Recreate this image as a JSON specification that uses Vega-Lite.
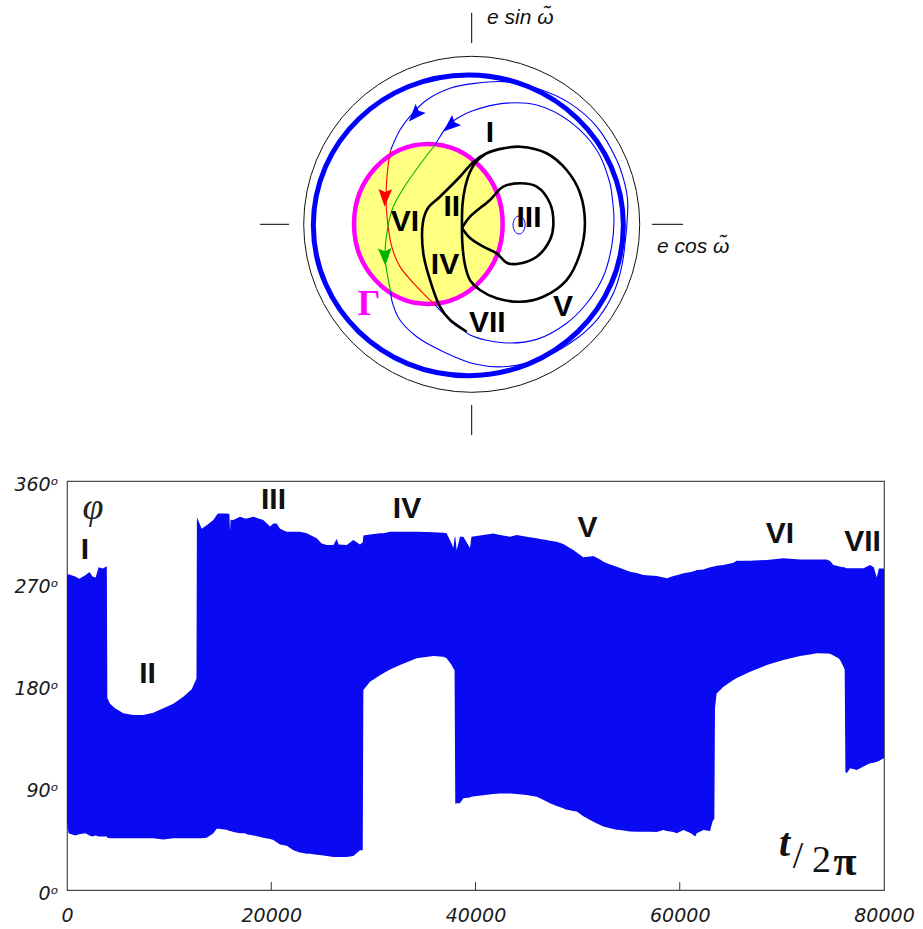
{
  "$schema": "https://vega.github.io/schema/vega-lite/v6.json",
  "width": 817,
  "height": 409,
  "autosize": {"type": "none"},
  "padding": {"left": 67, "top": 481, "right": 39, "bottom": 39},
  "background": "white",
  "config": {"view": {"stroke": "#4a4a4a", "strokeWidth": 1.2}},
  "datasets": {
    "band": [
      {"t":0,"lo":60,"hi":277},{"t":150,"lo":50,"hi":278},{"t":800,"lo":48,"hi":276},{"t":1200,"lo":49,"hi":274},{"t":1800,"lo":50,"hi":277},{"t":2200,"lo":48,"hi":280},{"t":2500,"lo":47,"hi":276},{"t":2800,"lo":48,"hi":275},{"t":3100,"lo":47,"hi":284},{"t":3500,"lo":47,"hi":283},{"t":3900,"lo":47,"hi":285},
      {"t":3950,"lo":46,"hi":169},{"t":4210,"lo":45.5,"hi":164},{"t":4700,"lo":45.5,"hi":160},{"t":5520,"lo":45.5,"hi":155.5},{"t":6500,"lo":45.5,"hi":154},{"t":7470,"lo":45.5,"hi":154},{"t":8450,"lo":45.5,"hi":156},{"t":9430,"lo":44.5,"hi":160},{"t":10410,"lo":45.5,"hi":164},{"t":11390,"lo":45.5,"hi":170},{"t":12210,"lo":45.5,"hi":176.6},{"t":12540,"lo":45.5,"hi":183.4},{"t":12680,"lo":45.5,"hi":186},
      {"t":12720,"lo":45.5,"hi":328},{"t":13190,"lo":45.5,"hi":318},{"t":13680,"lo":46,"hi":321},{"t":14330,"lo":50,"hi":325.7},{"t":14660,"lo":54,"hi":330},{"t":14820,"lo":54,"hi":331.5},{"t":15640,"lo":53,"hi":331.5},{"t":15900,"lo":52,"hi":331},{"t":15960,"lo":52,"hi":316},{"t":16020,"lo":52,"hi":326},{"t":16290,"lo":51,"hi":325.7},{"t":16940,"lo":50,"hi":328.6},{"t":17430,"lo":50,"hi":327},{"t":17590,"lo":49,"hi":327},{"t":18250,"lo":48,"hi":328.6},{"t":19220,"lo":46,"hi":325.7},{"t":19880,"lo":45,"hi":320},{"t":20210,"lo":44,"hi":322.7},{"t":20530,"lo":42,"hi":322.7},{"t":20860,"lo":40,"hi":318},{"t":21510,"lo":39,"hi":315.4},{"t":22170,"lo":35,"hi":315.4},{"t":22810,"lo":33,"hi":315.4},{"t":23470,"lo":32,"hi":314},{"t":23800,"lo":32,"hi":312.5},{"t":24450,"lo":31,"hi":309.5},{"t":24940,"lo":30.5,"hi":305},{"t":25430,"lo":30,"hi":303.7},{"t":26080,"lo":29,"hi":303.7},{"t":26410,"lo":29,"hi":309},{"t":26600,"lo":29,"hi":304},{"t":27390,"lo":29,"hi":303.7},{"t":28040,"lo":30,"hi":308},{"t":28690,"lo":35,"hi":304},{"t":28960,"lo":35,"hi":306},
      {"t":29020,"lo":176,"hi":312},{"t":29670,"lo":183.4,"hi":313},{"t":30650,"lo":189,"hi":314},{"t":30980,"lo":190.7,"hi":314},{"t":31630,"lo":194,"hi":315.4},{"t":32610,"lo":198,"hi":315.4},{"t":34240,"lo":204,"hi":315.4},{"t":35870,"lo":206,"hi":315},{"t":36850,"lo":205.4,"hi":314.5},{"t":37170,"lo":204,"hi":314},{"t":37660,"lo":198,"hi":305},{"t":37830,"lo":195,"hi":301},{"t":37950,"lo":193.6,"hi":310},
      {"t":38020,"lo":76,"hi":311},{"t":38160,"lo":76.3,"hi":299},{"t":38480,"lo":76.3,"hi":311},{"t":38810,"lo":80.7,"hi":311},{"t":39460,"lo":81.5,"hi":301},{"t":39600,"lo":82,"hi":311},{"t":40110,"lo":82.7,"hi":311.5},{"t":40770,"lo":83.5,"hi":312.5},{"t":41740,"lo":84.5,"hi":313.9},{"t":42400,"lo":85,"hi":312.5},{"t":43380,"lo":85,"hi":311},{"t":44030,"lo":84.5,"hi":312.5},{"t":45010,"lo":83.6,"hi":311},{"t":45990,"lo":82,"hi":309.5},{"t":46320,"lo":80.7,"hi":309},{"t":46960,"lo":78,"hi":308},{"t":47300,"lo":76.3,"hi":307.5},{"t":47940,"lo":74,"hi":306.6},{"t":48600,"lo":72,"hi":304.5},{"t":48760,"lo":71,"hi":303.7},{"t":49580,"lo":69.5,"hi":299.3},{"t":49910,"lo":69,"hi":297},{"t":50560,"lo":65,"hi":292.8},{"t":51220,"lo":61.6,"hi":293.5},{"t":51540,"lo":60,"hi":294},{"t":52200,"lo":57.2,"hi":291},{"t":52520,"lo":56,"hi":289},{"t":53180,"lo":54.3,"hi":286.5},{"t":53830,"lo":53,"hi":284.6},{"t":54160,"lo":52.8,"hi":283.5},{"t":55130,"lo":51.5,"hi":280.2},{"t":55790,"lo":51.3,"hi":279},{"t":56440,"lo":51.3,"hi":277.3},{"t":57100,"lo":51.3,"hi":276.8},{"t":57750,"lo":51,"hi":276.4},{"t":58410,"lo":52.8,"hi":275},{"t":58730,"lo":52,"hi":274.3},{"t":59380,"lo":51,"hi":276.4},{"t":59710,"lo":49.9,"hi":277},{"t":60360,"lo":52.8,"hi":278.7},{"t":61100,"lo":50,"hi":280},{"t":61510,"lo":47,"hi":281},{"t":61670,"lo":50,"hi":281.7},{"t":62320,"lo":52.8,"hi":282},{"t":62970,"lo":52,"hi":284},{"t":63200,"lo":60,"hi":284.5},{"t":63390,"lo":63,"hi":284.7},
      {"t":63450,"lo":160,"hi":285},{"t":63610,"lo":173,"hi":285.5},{"t":64280,"lo":179,"hi":286.1},{"t":65250,"lo":184.8,"hi":288},{"t":65580,"lo":186.5,"hi":289.9},{"t":66890,"lo":192.2,"hi":289.9},{"t":68520,"lo":198,"hi":290.5},{"t":70150,"lo":202.4,"hi":291.9},{"t":71780,"lo":206,"hi":291},{"t":72760,"lo":207.3,"hi":291},{"t":73420,"lo":208.3,"hi":291},{"t":74390,"lo":208.2,"hi":291},{"t":74720,"lo":208,"hi":289.5},{"t":75050,"lo":206.5,"hi":286.1},{"t":75540,"lo":203.9,"hi":285},{"t":75700,"lo":202.5,"hi":284.6},{"t":76030,"lo":196.6,"hi":284},{"t":76150,"lo":194,"hi":284},
      {"t":76220,"lo":104,"hi":283.5},{"t":76350,"lo":102.7,"hi":283.3},{"t":76680,"lo":107.1,"hi":283.1},{"t":77330,"lo":105.6,"hi":283.1},{"t":77990,"lo":108.6,"hi":283.1},{"t":78640,"lo":111.5,"hi":286},{"t":79000,"lo":112,"hi":284},{"t":79290,"lo":112.9,"hi":275},{"t":79500,"lo":113.5,"hi":283},{"t":79790,"lo":115,"hi":283},{"t":80000,"lo":116,"hi":283}
    ],
    "traj": [
      {"seg":"b1","part":"outside","i":1,"u":-0.482,"v":-0.401},{"seg":"b1","part":"outside","i":2,"u":-0.476,"v":-0.451},{"seg":"b1","part":"outside","i":3,"u":-0.427,"v":-0.570},{"seg":"b1","part":"outside","i":4,"u":-0.327,"v":-0.669},{"seg":"b1","part":"outside","i":5,"u":-0.169,"v":-0.758},{"seg":"b1","part":"outside","i":6,"u":0.020,"v":-0.832},{"seg":"b1","part":"outside","i":7,"u":0.188,"v":-0.848},{"seg":"b1","part":"outside","i":8,"u":0.387,"v":-0.808},{"seg":"b1","part":"outside","i":9,"u":0.585,"v":-0.708},{"seg":"b1","part":"outside","i":10,"u":0.744,"v":-0.570},{"seg":"b1","part":"outside","i":11,"u":0.843,"v":-0.411},{"seg":"b1","part":"outside","i":12,"u":0.893,"v":-0.252},{"seg":"b1","part":"outside","i":13,"u":0.915,"v":-0.093},{"seg":"b1","part":"outside","i":14,"u":0.924,"v":0.002},{"seg":"b1","part":"outside","i":15,"u":0.928,"v":0.145},{"seg":"b1","part":"outside","i":16,"u":0.905,"v":0.264},{"seg":"b1","part":"outside","i":17,"u":0.863,"v":0.383},{"seg":"b1","part":"outside","i":18,"u":0.744,"v":0.581},{"seg":"b1","part":"outside","i":19,"u":0.585,"v":0.720},{"seg":"b1","part":"outside","i":20,"u":0.387,"v":0.810},{"seg":"b1","part":"outside","i":21,"u":0.188,"v":0.849},{"seg":"b1","part":"outside","i":22,"u":0.020,"v":0.839},{"seg":"b1","part":"outside","i":23,"u":-0.129,"v":0.810},{"seg":"b1","part":"outside","i":24,"u":-0.268,"v":0.740},{"seg":"b1","part":"outside","i":25,"u":-0.349,"v":0.663},{"seg":"b1","part":"outside","i":26,"u":-0.427,"v":0.561},{"seg":"b1","part":"outside","i":27,"u":-0.482,"v":0.442},
      {"seg":"r","part":"inside1","i":1,"u":-0.482,"v":0.442},{"seg":"r","part":"inside1","i":2,"u":-0.496,"v":0.363},{"seg":"r","part":"inside1","i":3,"u":-0.510,"v":0.164},{"seg":"r","part":"inside1","i":4,"u":-0.502,"v":0.026},{"seg":"r","part":"inside1","i":5,"u":-0.476,"v":-0.133},{"seg":"r","part":"inside1","i":6,"u":-0.427,"v":-0.252},{"seg":"r","part":"inside1","i":7,"u":-0.327,"v":-0.371},{"seg":"r","part":"inside1","i":8,"u":-0.218,"v":-0.480},
      {"seg":"b2","part":"outside","i":1,"u":-0.218,"v":-0.480},{"seg":"b2","part":"outside","i":2,"u":-0.149,"v":-0.550},{"seg":"b2","part":"outside","i":3,"u":-0.070,"v":-0.610},{"seg":"b2","part":"outside","i":4,"u":-0.010,"v":-0.659},{"seg":"b2","part":"outside","i":5,"u":0.188,"v":-0.705},{"seg":"b2","part":"outside","i":6,"u":0.387,"v":-0.685},{"seg":"b2","part":"outside","i":7,"u":0.565,"v":-0.589},{"seg":"b2","part":"outside","i":8,"u":0.685,"v":-0.470},{"seg":"b2","part":"outside","i":9,"u":0.783,"v":-0.312},{"seg":"b2","part":"outside","i":10,"u":0.833,"v":-0.133},{"seg":"b2","part":"outside","i":11,"u":0.847,"v":0.026},{"seg":"b2","part":"outside","i":12,"u":0.838,"v":0.145},{"seg":"b2","part":"outside","i":13,"u":0.823,"v":0.244},{"seg":"b2","part":"outside","i":14,"u":0.744,"v":0.442},{"seg":"b2","part":"outside","i":15,"u":0.585,"v":0.611},{"seg":"b2","part":"outside","i":16,"u":0.387,"v":0.710},{"seg":"b2","part":"outside","i":17,"u":0.188,"v":0.720},{"seg":"b2","part":"outside","i":18,"u":0.002,"v":0.674},{"seg":"b2","part":"outside","i":19,"u":-0.070,"v":0.640},{"seg":"b2","part":"outside","i":20,"u":-0.139,"v":0.591},{"seg":"b2","part":"outside","i":21,"u":-0.189,"v":0.521},{"seg":"b2","part":"outside","i":22,"u":-0.218,"v":0.472},
      {"seg":"g","part":"inside2","i":1,"u":-0.218,"v":0.472},{"seg":"g","part":"inside2","i":2,"u":-0.288,"v":0.383},{"seg":"g","part":"inside2","i":3,"u":-0.387,"v":0.244},{"seg":"g","part":"inside2","i":4,"u":-0.467,"v":0.105},{"seg":"g","part":"inside2","i":5,"u":-0.502,"v":-0.034},{"seg":"g","part":"inside2","i":6,"u":-0.516,"v":-0.193},{"seg":"g","part":"inside2","i":7,"u":-0.496,"v":-0.332},{"seg":"g","part":"inside2","i":8,"u":-0.482,"v":-0.401}
    ],
    "black": [
      {"seg":"a","i":1,"u":-0.030,"v":-0.639},{"seg":"a","i":2,"u":-0.129,"v":-0.570},{"seg":"a","i":3,"u":-0.189,"v":-0.490},{"seg":"a","i":4,"u":-0.248,"v":-0.332},{"seg":"a","i":5,"u":-0.288,"v":-0.173},{"seg":"a","i":6,"u":-0.290,"v":0.014},{"seg":"a","i":7,"u":-0.260,"v":0.097},{"seg":"a","i":8,"u":-0.189,"v":0.164},{"seg":"a","i":9,"u":-0.070,"v":0.283},{"seg":"a","i":10,"u":0.010,"v":0.371},{"seg":"a","i":11,"u":0.089,"v":0.423},{"seg":"a","i":12,"u":0.188,"v":0.452},{"seg":"a","i":13,"u":0.288,"v":0.462},{"seg":"a","i":14,"u":0.446,"v":0.423},{"seg":"a","i":15,"u":0.565,"v":0.323},{"seg":"a","i":16,"u":0.645,"v":0.185},{"seg":"a","i":17,"u":0.674,"v":0.006},{"seg":"a","i":18,"u":0.645,"v":-0.173},{"seg":"a","i":19,"u":0.565,"v":-0.332},{"seg":"a","i":20,"u":0.426,"v":-0.431},{"seg":"a","i":21,"u":0.288,"v":-0.461},{"seg":"a","i":22,"u":0.149,"v":-0.440},{"seg":"a","i":23,"u":0.049,"v":-0.391},{"seg":"a","i":24,"u":-0.010,"v":-0.332},{"seg":"a","i":25,"u":-0.040,"v":-0.242},{"seg":"a","i":26,"u":-0.055,"v":-0.123},{"seg":"a","i":27,"u":-0.058,"v":-0.004},{"seg":"a","i":28,"u":-0.055,"v":0.115},{"seg":"a","i":29,"u":-0.040,"v":0.216},{"seg":"a","i":30,"u":-0.010,"v":0.311},{"seg":"a","i":31,"u":0.026,"v":0.371},{"seg":"a","i":32,"u":0.089,"v":0.423},
      {"seg":"b","i":1,"u":-0.058,"v":-0.022},{"seg":"b","i":2,"u":-0.010,"v":0.045},{"seg":"b","i":3,"u":0.109,"v":0.145},{"seg":"b","i":4,"u":0.188,"v":0.224},{"seg":"b","i":5,"u":0.288,"v":0.244},{"seg":"b","i":6,"u":0.387,"v":0.224},{"seg":"b","i":7,"u":0.466,"v":0.125},{"seg":"b","i":8,"u":0.486,"v":-0.004},{"seg":"b","i":9,"u":0.466,"v":-0.093},{"seg":"b","i":10,"u":0.387,"v":-0.193},{"seg":"b","i":11,"u":0.268,"v":-0.236},{"seg":"b","i":12,"u":0.208,"v":-0.229},{"seg":"b","i":13,"u":0.149,"v":-0.173},{"seg":"b","i":14,"u":0.069,"v":-0.133},{"seg":"b","i":15,"u":-0.010,"v":-0.082},{"seg":"b","i":16,"u":-0.058,"v":-0.022}
    ]
  },
  "layer": [
    {
      "layer": [
        {
          "data": {"name": "band"},
          "mark": {"type": "area", "color": "#0a0af2", "interpolate": "linear"},
          "encoding": {
            "x": {"field": "t", "type": "quantitative", "scale": {"domain": [0, 80000], "nice": false, "zero": false},
              "axis": {"values": [0, 20000, 40000, 60000, 80000], "format": "d", "title": null, "grid": false, "ticks": false, "domain": false, "labelFont": "DejaVu Sans", "labelFontStyle": "italic", "labelFontSize": 19, "labelColor": "#1a1a1a", "labelPadding": 16, "labelFlush": false, "labelOverlap": false}},
            "y": {"field": "lo", "type": "quantitative", "scale": {"domain": [0, 360], "nice": false, "zero": false},
              "axis": {"values": [0, 90, 180, 270, 360], "labelExpr": "datum.value + 'ᵒ'", "title": null, "grid": false, "ticks": false, "domain": false, "labelFont": "DejaVu Sans", "labelFontStyle": "italic", "labelFontSize": 19, "labelColor": "#1a1a1a", "labelPadding": 9, "labelOffset": 3, "labelOverlap": false}},
            "y2": {"field": "hi"}
          }
        },
        {
          "data": {"values": [{"t": 20000}, {"t": 40000}, {"t": 60000}]},
          "mark": {"type": "rule", "color": "#333", "strokeWidth": 1},
          "encoding": {
            "x": {"field": "t", "type": "quantitative", "scale": {"domain": [0, 80000], "nice": false, "zero": false}},
            "y": {"datum": 0, "type": "quantitative", "scale": {"domain": [0, 360], "nice": false, "zero": false}},
            "y2": {"datum": 7}
          }
        },
        {
          "data": {"values": [
            {"label": "I", "t": 1763, "p": 299.3}, {"label": "II", "t": 7883, "p": 190.1}, {"label": "III", "t": 20220, "p": 343.3},
            {"label": "IV", "t": 33293, "p": 335.4}, {"label": "V", "t": 50967, "p": 319}, {"label": "VI", "t": 69817, "p": 313.4}, {"label": "VII", "t": 77895, "p": 306.7}]},
          "mark": {"type": "text", "font": "Liberation Sans", "fontWeight": "bold", "fontSize": 30, "color": "#111", "align": "center", "baseline": "middle"},
          "encoding": {
            "x": {"field": "t", "type": "quantitative", "scale": {"domain": [0, 80000], "nice": false, "zero": false}},
            "y": {"field": "p", "type": "quantitative", "scale": {"domain": [0, 360], "nice": false, "zero": false}},
            "text": {"field": "label"}
          }
        },
        {
          "data": {"values": [{"label": "φ", "t": 2546, "p": 336.2}]},
          "mark": {"type": "text", "font": "Liberation Serif", "fontStyle": "italic", "fontSize": 38, "color": "#222", "align": "center", "baseline": "middle"},
          "encoding": {
            "x": {"field": "t", "type": "quantitative", "scale": {"domain": [0, 80000], "nice": false, "zero": false}},
            "y": {"field": "p", "type": "quantitative", "scale": {"domain": [0, 360], "nice": false, "zero": false}},
            "text": {"field": "label"}
          }
        },
        {
          "data": {"values": [{"label": "t", "t": 70258, "p": 40.5}]},
          "mark": {"type": "text", "font": "Liberation Serif", "fontStyle": "italic", "fontWeight": "bold", "fontSize": 40, "color": "#111", "align": "center", "baseline": "middle"},
          "encoding": {
            "x": {"field": "t", "type": "quantitative", "scale": {"domain": [0, 80000], "nice": false, "zero": false}},
            "y": {"field": "p", "type": "quantitative", "scale": {"domain": [0, 360], "nice": false, "zero": false}},
            "text": {"field": "label"}
          }
        },
        {
          "data": {"values": [{"label": "/", "t": 71580, "p": 29}, {"label": "2", "t": 73881, "p": 25.5}]},
          "mark": {"type": "text", "font": "Liberation Serif", "fontSize": 38, "color": "#111", "align": "center", "baseline": "middle"},
          "encoding": {
            "x": {"field": "t", "type": "quantitative", "scale": {"domain": [0, 80000], "nice": false, "zero": false}},
            "y": {"field": "p", "type": "quantitative", "scale": {"domain": [0, 360], "nice": false, "zero": false}},
            "text": {"field": "label"}
          }
        },
        {
          "data": {"values": [{"label": "π", "t": 76182, "p": 24.5}]},
          "mark": {"type": "text", "font": "Liberation Serif", "fontWeight": "bold", "fontSize": 42, "color": "#111", "align": "center", "baseline": "middle"},
          "encoding": {
            "x": {"field": "t", "type": "quantitative", "scale": {"domain": [0, 80000], "nice": false, "zero": false}},
            "y": {"field": "p", "type": "quantitative", "scale": {"domain": [0, 360], "nice": false, "zero": false}},
            "text": {"field": "label"}
          }
        }
      ]
    },
    {
      "layer": [
        {
          "data": {"values": [{"u": 0, "v": 0}]},
          "mark": {"type": "point", "shape": "circle", "size": 112896, "filled": false, "stroke": "#111", "strokeWidth": 1, "opacity": 1},
          "encoding": {
            "x": {"field": "u", "type": "quantitative", "scale": {"domain": [-2, 2], "range": [68.7, 740.7], "nice": false, "zero": false}, "axis": null},
            "y": {"field": "v", "type": "quantitative", "scale": {"domain": [-1.5, 1.5], "range": [-4.7, -508.7], "nice": false, "zero": false}, "axis": null}
          }
        },
        {
          "data": {"values": [{"u": -0.02, "v": -0.006}]},
          "mark": {"type": "point", "shape": "M-1,0A1,0.97,0,1,0,1,0A1,0.97,0,1,0,-1,0Z", "size": 96100, "filled": false, "stroke": "#0000ff", "strokeWidth": 5, "opacity": 1},
          "encoding": {
            "x": {"field": "u", "type": "quantitative", "scale": {"domain": [-2, 2], "range": [68.7, 740.7], "nice": false, "zero": false}, "axis": null},
            "y": {"field": "v", "type": "quantitative", "scale": {"domain": [-1.5, 1.5], "range": [-4.7, -508.7], "nice": false, "zero": false}, "axis": null}
          }
        },
        {
          "data": {"values": [{"u": -0.258, "v": 0.002}]},
          "mark": {"type": "point", "shape": "M-0.929,0A0.929,1,0,1,0,0.929,0A0.929,1,0,1,0,-0.929,0Z", "size": 25600, "filled": true, "fill": "#ffff80", "stroke": "#ff00ff", "strokeWidth": 4.5, "opacity": 1},
          "encoding": {
            "x": {"field": "u", "type": "quantitative", "scale": {"domain": [-2, 2], "range": [68.7, 740.7], "nice": false, "zero": false}, "axis": null},
            "y": {"field": "v", "type": "quantitative", "scale": {"domain": [-1.5, 1.5], "range": [-4.7, -508.7], "nice": false, "zero": false}, "axis": null}
          }
        },
        {
          "data": {"values": [{"u": 0.282, "v": -0.004}]},
          "mark": {"type": "point", "shape": "M-0.67,0A0.67,1,0,1,0,0.67,0A0.67,1,0,1,0,-0.67,0Z", "size": 324, "filled": false, "stroke": "#0000ff", "strokeWidth": 1, "opacity": 1},
          "encoding": {
            "x": {"field": "u", "type": "quantitative", "scale": {"domain": [-2, 2], "range": [68.7, 740.7], "nice": false, "zero": false}, "axis": null},
            "y": {"field": "v", "type": "quantitative", "scale": {"domain": [-1.5, 1.5], "range": [-4.7, -508.7], "nice": false, "zero": false}, "axis": null}
          }
        },
        {
          "data": {"name": "traj"},
          "mark": {"type": "line", "strokeWidth": 1.1, "interpolate": "catmull-rom"},
          "encoding": {
            "x": {"field": "u", "type": "quantitative", "scale": {"domain": [-2, 2], "range": [68.7, 740.7], "nice": false, "zero": false}, "axis": null},
            "y": {"field": "v", "type": "quantitative", "scale": {"domain": [-1.5, 1.5], "range": [-4.7, -508.7], "nice": false, "zero": false}, "axis": null},
            "detail": {"field": "seg"},
            "order": {"field": "i", "type": "quantitative"},
            "color": {"field": "part", "type": "nominal", "scale": {"domain": ["outside", "inside1", "inside2"], "range": ["#0000ff", "#ff0000", "#00b400"]}, "legend": null}
          }
        },
        {
          "data": {"name": "black"},
          "mark": {"type": "line", "strokeWidth": 2.6, "color": "#000", "interpolate": "catmull-rom"},
          "encoding": {
            "x": {"field": "u", "type": "quantitative", "scale": {"domain": [-2, 2], "range": [68.7, 740.7], "nice": false, "zero": false}, "axis": null},
            "y": {"field": "v", "type": "quantitative", "scale": {"domain": [-1.5, 1.5], "range": [-4.7, -508.7], "nice": false, "zero": false}, "axis": null},
            "detail": {"field": "seg"},
            "order": {"field": "i", "type": "quantitative"}
          }
        },
        {
          "data": {"values": [
            {"part": "outside", "u": -0.335, "v": 0.655, "dir": 222},
            {"part": "outside", "u": -0.125, "v": 0.590, "dir": 229},
            {"part": "inside1", "u": -0.516, "v": 0.163, "dir": 182},
            {"part": "inside2", "u": -0.516, "v": -0.189, "dir": 178}]},
          "mark": {"type": "point", "shape": "M0,-1L0.7,0.8L0,0.5L-0.7,0.8Z", "size": 380, "filled": true, "opacity": 1},
          "encoding": {
            "x": {"field": "u", "type": "quantitative", "scale": {"domain": [-2, 2], "range": [68.7, 740.7], "nice": false, "zero": false}, "axis": null},
            "y": {"field": "v", "type": "quantitative", "scale": {"domain": [-1.5, 1.5], "range": [-4.7, -508.7], "nice": false, "zero": false}, "axis": null},
            "angle": {"field": "dir", "type": "quantitative", "scale": null},
            "color": {"field": "part", "type": "nominal", "scale": {"domain": ["outside", "inside1", "inside2"], "range": ["#0000ff", "#ff0000", "#00b400"]}, "legend": null}
          }
        },
        {
          "data": {"values": [
            {"u1": 0, "v1": 1.079, "u2": 0, "v2": 1.259},
            {"u1": 0, "v1": -1.076, "u2": 0, "v2": -1.254},
            {"u1": -1.260, "v1": 0, "u2": -1.087, "v2": 0},
            {"u1": 1.073, "v1": 0, "u2": 1.258, "v2": 0}]},
          "mark": {"type": "rule", "color": "#000", "strokeWidth": 1},
          "encoding": {
            "x": {"field": "u1", "type": "quantitative", "scale": {"domain": [-2, 2], "range": [68.7, 740.7], "nice": false, "zero": false}, "axis": null},
            "y": {"field": "v1", "type": "quantitative", "scale": {"domain": [-1.5, 1.5], "range": [-4.7, -508.7], "nice": false, "zero": false}, "axis": null},
            "x2": {"field": "u2"},
            "y2": {"field": "v2"}
          }
        },
        {
          "data": {"values": [
            {"label": "I", "u": 0.109, "v": 0.543}, {"label": "II", "u": -0.119, "v": 0.103}, {"label": "III", "u": 0.341, "v": 0.035},
            {"label": "IV", "u": -0.159, "v": -0.242}, {"label": "V", "u": 0.543, "v": -0.492}, {"label": "VI", "u": -0.397, "v": 0.015}, {"label": "VII", "u": 0.093, "v": -0.589}]},
          "mark": {"type": "text", "font": "Liberation Sans", "fontWeight": "bold", "fontSize": 30, "color": "#000", "align": "center", "baseline": "middle"},
          "encoding": {
            "x": {"field": "u", "type": "quantitative", "scale": {"domain": [-2, 2], "range": [68.7, 740.7], "nice": false, "zero": false}, "axis": null},
            "y": {"field": "v", "type": "quantitative", "scale": {"domain": [-1.5, 1.5], "range": [-4.7, -508.7], "nice": false, "zero": false}, "axis": null},
            "text": {"field": "label"}
          }
        },
        {
          "data": {"values": [{"label": "Γ", "u": -0.611, "v": -0.474}]},
          "mark": {"type": "text", "font": "Liberation Serif", "fontWeight": "bold", "fontSize": 36, "color": "#ff00ff", "align": "center", "baseline": "middle"},
          "encoding": {
            "x": {"field": "u", "type": "quantitative", "scale": {"domain": [-2, 2], "range": [68.7, 740.7], "nice": false, "zero": false}, "axis": null},
            "y": {"field": "v", "type": "quantitative", "scale": {"domain": [-1.5, 1.5], "range": [-4.7, -508.7], "nice": false, "zero": false}, "axis": null},
            "text": {"field": "label"}
          }
        },
        {
          "data": {"values": [{"label": "e sin ω̃", "u": 0.091, "v": 1.228}, {"label": "e cos ω̃", "u": 1.103, "v": -0.135}]},
          "mark": {"type": "text", "font": "Liberation Sans", "fontStyle": "italic", "fontSize": 21, "color": "#111", "align": "left", "baseline": "middle"},
          "encoding": {
            "x": {"field": "u", "type": "quantitative", "scale": {"domain": [-2, 2], "range": [68.7, 740.7], "nice": false, "zero": false}, "axis": null},
            "y": {"field": "v", "type": "quantitative", "scale": {"domain": [-1.5, 1.5], "range": [-4.7, -508.7], "nice": false, "zero": false}, "axis": null},
            "text": {"field": "label"}
          }
        }
      ]
    }
  ],
  "resolve": {"scale": {"x": "independent", "y": "independent"}}
}
